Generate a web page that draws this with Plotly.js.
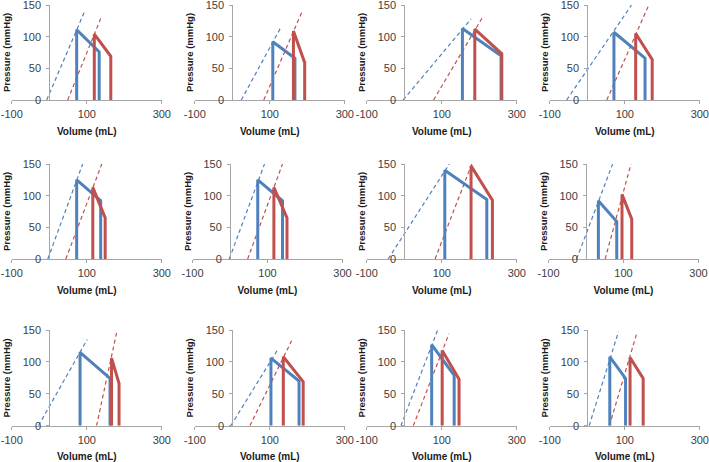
<!DOCTYPE html>
<html>
<head>
<meta charset="utf-8">
<script src="https://cdn.plot.ly/plotly-3.0.1.min.js"></script>
<style>html,body{margin:0;padding:0;background:#fff;} #chart{width:709px;height:462px;}</style>
</head>
<body>
<div id="chart"></div>
<script>
// ---- data (12 panels) ----
var xTicks = [-100, 100, 300];
var xTickText = ["-100", "100", "300"];
var yTicks = [0, 50, 100, 150];
var xTitle = "Volume (mL)";
var yTitle = "Pressure (mmHg)";

// blue loop: end-systolic volume/pressure, end-diastolic volume/pressure
var blueESV = [73, 108, 155, 71, 73, 74, 108, 33, 82, 103, 73, 60];
var blueESP = [111, 92, 113, 107, 125, 125, 140, 92, 115, 106, 127, 108];
var blueEDV = [133, 167, 258, 154, 137, 140, 220, 82, 162, 178, 133, 102];
var blueEDP = [76, 66, 70, 66, 92, 92, 94, 59, 74, 70, 79, 74];
// blue dashed line: volume intercept and upper end point
var blueV0 = [-7, 24, -3, -55, -4, -2, -43, -25, -29, -4, -9, 5];
var blueDashV = [95, 128, 178, 118, 89, 92, 120, 71, 101, 123, 89, 83];
var blueDashP = [141, 113, 128, 150, 150, 150, 150, 150, 135, 121, 150, 147];

// red loop
var redESV = [120, 163, 188, 129, 116, 117, 178, 96, 166, 136, 101, 114];
var redESP = [104, 109, 112, 105, 113, 113, 147, 102, 106, 108, 118, 107];
var redEDV = [164, 193, 260, 173, 149, 152, 235, 122, 186, 189, 146, 149];
var redEDP = [69, 59, 73, 64, 65, 65, 93, 63, 66, 69, 73, 74];
var redV0 = [49, 84, 78, 52, 44, 47, 82, 51, 126, 47, 24, 59];
var redDashV = [140, 185, 211, 164, 140, 140, 180, 120, 181, 158, 119, 133];
var redDashP = [133, 138, 133, 150, 150, 150, 150, 150, 150, 133, 144, 147];

// ---- layout geometry (pixels) ----
var W = 709, H = 462;
var axisXpx = [[49.3, 232.3, 404.3, 587.3], [49.3, 230, 404.3, 586], [49.3, 232.3, 404.3, 587.3]];
var rowTopPx = [5, 164, 330];
var rowBotPx = [100, 259, 425.7];
var BLUE = "#4f81bd", RED = "#c0504d";
var FONT = "Liberation Sans, Arial, sans-serif";

var traces = [];
var layout = {
  width: W, height: H,
  margin: {l: 0, r: 0, t: 0, b: 0},
  paper_bgcolor: "#ffffff", plot_bgcolor: "rgba(0,0,0,0)",
  showlegend: false,
  font: {family: FONT, size: 11, color: "#404040"}
};

for (var i = 0; i < 12; i++) {
  var r = Math.floor(i / 4), c = i % 4;
  var ax0 = axisXpx[r][c];
  var left = ax0 - 37.5, right = ax0 + 112.5;
  var xd = [left / W, right / W];
  var yd = [1 - rowBotPx[r] / H, 1 - rowTopPx[r] / H];
  var sfx = i === 0 ? "" : String(i + 1);
  var xa = "x" + sfx, ya = "y" + sfx;

  layout["xaxis" + sfx] = {
    domain: xd, anchor: ya, range: [-100, 300], fixedrange: true,
    tickvals: xTicks, ticktext: xTickText, ticks: "outside", ticklen: 3, tickcolor: "#a6a6a6",
    ticklabeloverflow: "allow", ticklabelstandoff: 1,
    showline: true, linecolor: "#a6a6a6", linewidth: 1,
    showgrid: false, zeroline: false,
    tickfont: {size: 11, color: "#404040"},
    title: {text: xTitle, standoff: 8, font: {size: 10, color: "#1a1a1a", family: FONT, weight: "bold"}}
  };
  layout["yaxis" + sfx] = {
    domain: yd, anchor: "free", position: xd[0] + 0.25 * (xd[1] - xd[0]),
    range: [0, 150], fixedrange: true,
    tickvals: yTicks, ticks: "outside", ticklen: 3, tickcolor: "#a6a6a6",
    ticklabeloverflow: "allow", ticklabelstandoff: 3,
    showline: true, linecolor: "#a6a6a6", linewidth: 1,
    showgrid: false, zeroline: false,
    tickfont: {size: 11, color: "#404040"},
    title: {text: yTitle, standoff: 9, font: {size: 9.5, color: "#1a1a1a", family: FONT, weight: "bold"}}
  };

  // dashed lines
  traces.push({x: [blueV0[i], blueDashV[i]], y: [0, blueDashP[i]], xaxis: xa, yaxis: ya,
    mode: "lines", line: {color: BLUE, width: 1.2, dash: "4px,3px"}, hoverinfo: "skip"});
  traces.push({x: [redV0[i], redDashV[i]], y: [0, redDashP[i]], xaxis: xa, yaxis: ya,
    mode: "lines", line: {color: RED, width: 1.2, dash: "4px,3px"}, hoverinfo: "skip"});
  // loops
  traces.push({x: [blueESV[i], blueESV[i], blueEDV[i], blueEDV[i]], y: [0, blueESP[i], blueEDP[i], 0],
    xaxis: xa, yaxis: ya, mode: "lines", line: {color: BLUE, width: 3}, hoverinfo: "skip"});
  traces.push({x: [redESV[i], redESV[i], redEDV[i], redEDV[i]], y: [0, redESP[i], redEDP[i], 0],
    xaxis: xa, yaxis: ya, mode: "lines", line: {color: RED, width: 3}, hoverinfo: "skip"});
}

Plotly.newPlot("chart", traces, layout, {staticPlot: true, displayModeBar: false});
</script>
</body>
</html>
